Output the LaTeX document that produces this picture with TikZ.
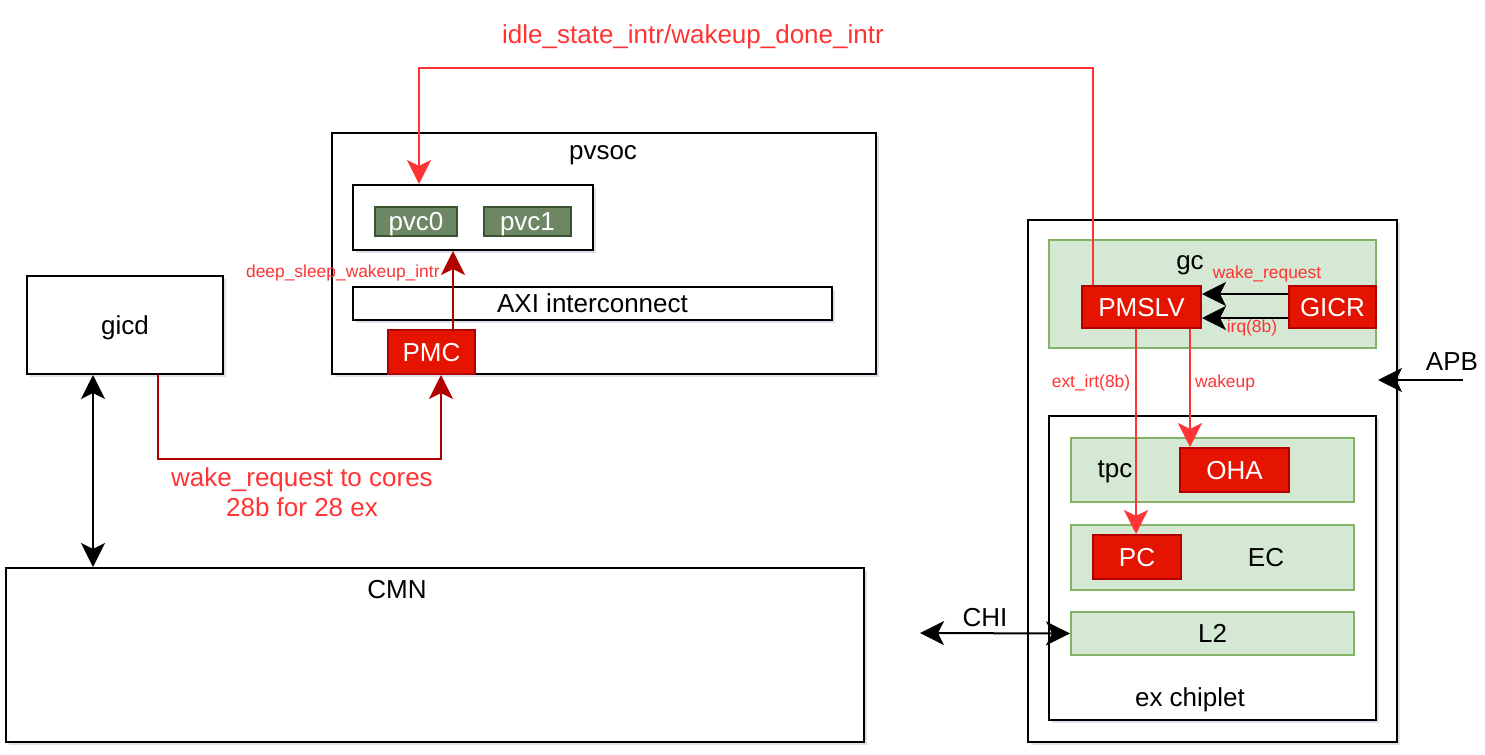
\documentclass[tikz,border=0pt]{standalone}
\usepackage{fontspec}
\setmainfont{Liberation Sans}
\usetikzlibrary{arrows.meta,shadows}
\definecolor{pvcfill}{HTML}{6D8764}
\definecolor{pvcline}{HTML}{3A5431}
\definecolor{redfill}{HTML}{E51400}
\definecolor{redline}{HTML}{B20000}
\definecolor{gcfill}{HTML}{D5E8D4}
\definecolor{gcline}{HTML}{82B366}
\definecolor{sigred}{HTML}{FF3333}

\begin{document}
\begin{tikzpicture}[x=0.5pt,y=-0.5pt,
    shd/.style={drop shadow={shadow xshift=1.5pt,shadow yshift=-1.5pt,opacity=0.12,fill=blue!40!black}},
    blk/.style={draw,fill=white,shd,line width=1pt,inner sep=0pt,text depth=0pt,font=\fontsize{13}{15}\selectfont},
    pvcblk/.style={draw=pvcline,fill=pvcfill,line width=1pt,inner sep=0pt,text depth=0pt,text=white,font=\fontsize{13}{15}\selectfont},
    redblk/.style={draw=redline,fill=redfill,line width=1pt,inner sep=0pt,text depth=0pt,text=white,font=\fontsize{13}{15}\selectfont},
    gcblk/.style={draw=gcline,fill=gcfill,line width=1pt,inner sep=0pt,text depth=0pt},
    lbl/.style={inner sep=0pt,font=\fontsize{13}{15}\selectfont},
    siglbl/.style={inner sep=0pt,text=sigred,font=\fontsize{8.7}{10}\selectfont},
    sigbig/.style={inner sep=0pt,text=sigred,align=center,font=\fontsize{13}{15}\selectfont},
    arrowend/.style={-{Stealth[length=12pt,width=12pt,inset=3pt]}},
    arrowboth/.style={{Stealth[length=12pt,width=12pt,inset=3pt]}-{Stealth[length=12pt,width=12pt,inset=3pt]}}]
    \useasboundingbox (0,0) rectangle (1485,755);
    % left side
    \node[blk,minimum width=98pt,minimum height=49pt] (gicd) at (125,325) {gicd};
    \node[blk,minimum width=429pt,minimum height=87pt] (cmn) at (435,655) {};
    \node[lbl] at (397,590) {CMN};
    % pvsoc
    \node[blk,minimum width=272pt,minimum height=120.5pt] (pvsoc) at (604,253.5) {};
    \node[lbl] at (603,155) {pvsoc};
    \node[blk,minimum width=120pt,minimum height=32.5pt] (pvcbox) at (473,217.5) {};
    \node[pvcblk,minimum width=41pt,minimum height=14.5pt] (pvc0) at (416,221.5) {pvc0};
    \node[pvcblk,minimum width=43.5pt,minimum height=14.5pt] (pvc1) at (527.5,221.5) {pvc1};
    \node[blk,minimum width=239.5pt,minimum height=16.5pt] (axi) at (592.5,303.5) {AXI interconnect};
    \node[redblk,minimum width=43.5pt,minimum height=22pt] (pmc) at (431.5,352) {PMC};
    % ex chiplet side
    \node[blk,minimum width=184.5pt,minimum height=261pt] (exout) at (1212.5,481) {};
    \node[gcblk,minimum width=163.5pt,minimum height=54pt] (gc) at (1212.5,294) {};
    \node[lbl] at (1190,265) {gc};
    \node[redblk,minimum width=59.5pt,minimum height=21pt] (pmslv) at (1141.5,307) {PMSLV};
    \node[redblk,minimum width=43.5pt,minimum height=21pt] (gicr) at (1332.5,307) {GICR};
    \node[blk,minimum width=163.5pt,minimum height=152pt] (exin) at (1212.5,568) {};
    \node[lbl] at (1190,700) {ex chiplet};
    \node[gcblk,minimum width=141.5pt,minimum height=32pt] (tpc) at (1212.5,470) {};
    \node[lbl] at (1115,472) {tpc};
    \node[redblk,minimum width=54.5pt,minimum height=22pt] (oha) at (1234.5,470) {OHA};
    \node[gcblk,minimum width=141.5pt,minimum height=32.5pt] (ec) at (1212.5,557.5) {};
    \node[lbl] at (1266,558) {EC};
    \node[redblk,minimum width=44pt,minimum height=22pt] (pc) at (1137,557) {PC};
    \node[gcblk,minimum width=141.5pt,minimum height=21.5pt,font=\fontsize{13}{15}\selectfont] (l2) at (1212.5,633.5) {L2};
    % signals
    \coordinate (topR) at (1093,68);
    \coordinate (topL) at (419,68);
    \draw[arrowend,sigred,line width=1pt] (pmslv.north -| topR) -- (topR) -- (topL) -- (pvcbox.north -| topL);
    \node[sigbig] at (693,37) {idle\_state\_intr/wakeup\_done\_intr};
    \coordinate (dsx) at (453,0);
    \draw[arrowend,redline,line width=1pt] (pmc.north -| dsx) -- (pvcbox.south -| dsx);
    \node[siglbl,anchor=east] at (440,273) {deep\_sleep\_wakeup\_intr};
    \coordinate (wkL) at (158,459);
    \coordinate (wkR) at (441,459);
    \draw[arrowend,redline,line width=1pt] (gicd.south -| wkL) -- (wkL) -- (wkR) -- (pmc.south -| wkR);
    \node[sigbig] at (302,492) {wake\_request to cores\\28b for 28 ex};
    \coordinate (gx) at (93,0);
    \draw[arrowboth,line width=1pt] (gicd.south -| gx) -- (cmn.north -| gx);
    \draw[arrowend,line width=1pt] (gicr.west |- 0,294) -- (pmslv.east |- 0,294);
    \draw[arrowend,line width=1pt] (gicr.west |- 0,318) -- (pmslv.east |- 0,318);
    \node[siglbl] at (1267,274) {wake\_request};
    \node[siglbl] at (1252,328) {irq(8b)};
    \coordinate (extx) at (1136,0);
    \coordinate (wupx) at (1190,0);
    \draw[arrowend,sigred,line width=1pt] (pmslv.south -| extx) -- (pc.north -| extx);
    \draw[arrowend,sigred,line width=1pt] (pmslv.south -| wupx) -- (oha.north -| wupx);
    \node[siglbl] at (1091,383) {ext\_irt(8b)};
    \node[siglbl] at (1225,383) {wakeup};
    % buses
    \coordinate (chiL) at (920,633);
    \draw[arrowboth,line width=1pt] (chiL) -- (l2.west);
    \node[lbl] at (985,618) {CHI};
    \coordinate (apbR) at (1463,380);
    \coordinate (apbL) at (1378,380);
    \draw[arrowend,line width=1pt] (apbR) -- (apbL);
    \node[lbl] at (1452,362) {APB};
\end{tikzpicture}
\end{document}
